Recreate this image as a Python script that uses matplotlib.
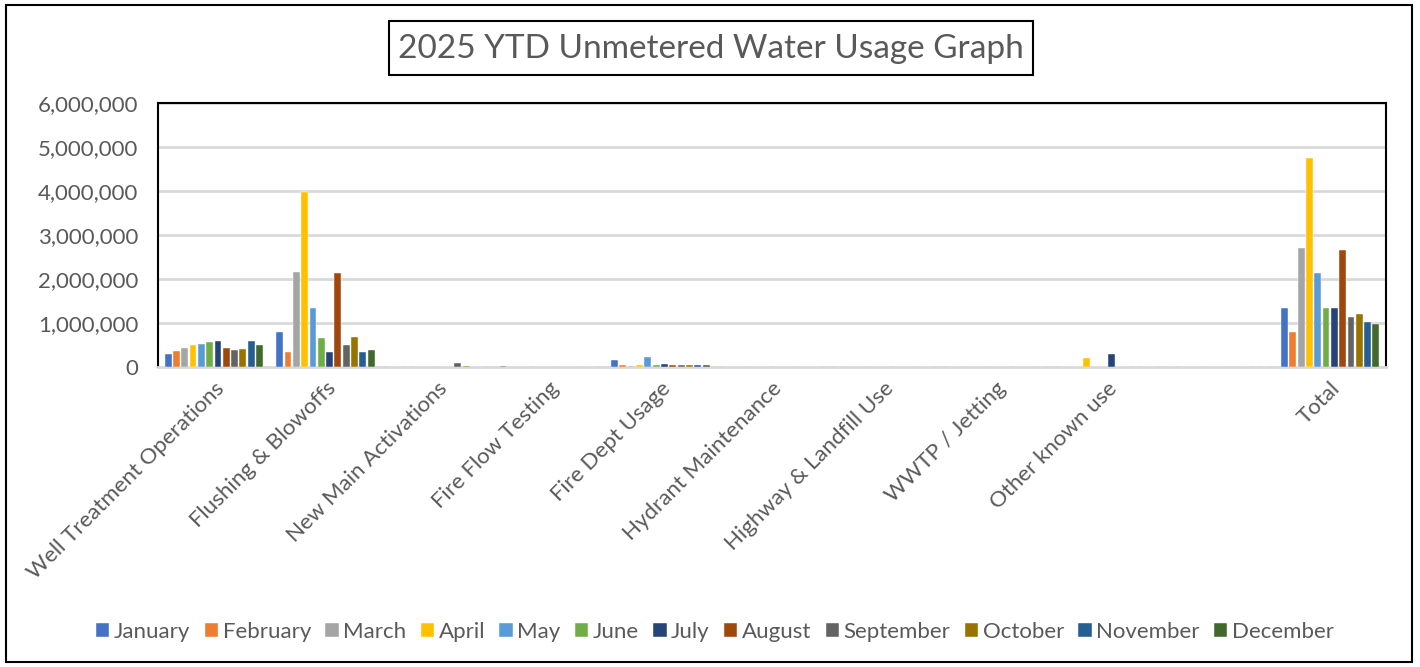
import numpy as np
import matplotlib
matplotlib.use("Agg")
import matplotlib.pyplot as plt
from matplotlib.patches import Rectangle
from matplotlib.ticker import FuncFormatter

# -------------------
# Data
# -------------------

categories = ["Well Treatment Operations", "Flushing & Blowoffs", "New Main Activations",
              "Fire Flow Testing", "Fire Dept Usage", "Hydrant Maintenance",
              "Highway & Landfill Use", "WWTP / Jetting", "Other known use", "", "Total"]
months = ["January", "February", "March", "April", "May", "June", "July",
          "August", "September", "October", "November", "December"]

well_treatment = [300000, 355000, 440000, 490000, 530000, 560000, 590000, 440000, 390000, 410000, 580000, 510000]
flushing = [790000, 350000, 2170000, 3970000, 1340000, 670000, 330000, 2140000, 510000, 680000, 350000, 380000]
new_main = [0, 0, 0, 0, 0, 0, 0, 0, 90000, 20000, 0, 0]
fire_flow = [20000, 0, 0, 0, 0, 0, 0, 0, 0, 0, 0, 0]
fire_dept = [170000, 55000, 30000, 50000, 220000, 55000, 60000, 55000, 55000, 55000, 55000, 55000]
hydrant = [0] * 12
highway = [0] * 12
wwtp = [0] * 12
other_use = [0, 0, 0, 200000, 0, 0, 290000, 0, 0, 0, 0, 0]
blank = [0] * 12
total = [1350000, 800000, 2700000, 4760000, 2140000, 1350000, 1330000, 2670000, 1130000, 1210000, 1030000, 980000]

colors = ["#4472C4", "#ED7D31", "#A5A5A5", "#FFC000", "#5B9BD5", "#70AD47",
          "#264478", "#9E480E", "#636363", "#997300", "#255E91", "#43682B"]

TEXT = "#595959"
plt.rcParams["font.family"] = ["Lato", "DejaVu Sans"]

values = np.array([well_treatment, flushing, new_main, fire_flow, fire_dept, hydrant,
                   highway, wwtp, other_use, blank, total])

fig = plt.figure(figsize=(14.2, 6.67), dpi=100)
W, H = 1420, 667
ax = fig.add_axes([158 / W, 1 - 367 / H, (1386 - 158) / W, (367 - 103) / H])

x = np.arange(len(categories))
pitch = 0.0745
bw = 0.062
for i, m in enumerate(months):
    ax.bar(x + (i - 5.5) * pitch, values[:, i], width=bw, color=colors[i],
           label=m, zorder=3, edgecolor="white", linewidth=0.3)

ax.set_xlim(-0.5, 10.5)
ax.set_ylim(0, 6000000)
ax.set_yticks(np.arange(0, 6000001, 1000000))
ax.yaxis.set_major_formatter(FuncFormatter(lambda v, p: f"{int(v):,}"))
ax.grid(axis="y", color="#D9D9D9", linewidth=2, zorder=0)
ax.set_xticks(x)
ax.set_xticklabels(categories, rotation=45, ha="right", va="top",
                   rotation_mode="anchor", color=TEXT, fontsize=16)
ax.tick_params(axis="both", length=0, labelsize=16, colors=TEXT)
ax.tick_params(axis="x", pad=8)
ax.tick_params(axis="y", pad=14)

for s in ["left", "top", "right"]:
    ax.spines[s].set_color("black")
    ax.spines[s].set_linewidth(1.5)
ax.spines["bottom"].set_color("#D9D9D9")
ax.spines["bottom"].set_linewidth(2)

# outer frame
fig.patches.append(Rectangle((6 / W, 1 - 662 / H), 1406 / W, 657 / H, transform=fig.transFigure,
                             fill=False, edgecolor="black", linewidth=1.5))

# boxed title
fig.patches.append(Rectangle((389 / W, 1 - 75 / H), 644 / W, 54 / H, transform=fig.transFigure,
                             fill=False, edgecolor="black", linewidth=1.5))
fig.text(711 / W, 1 - 49 / H, "2025 YTD Unmetered Water Usage Graph", ha="center", va="center",
         fontsize=24, color=TEXT)

fig.legend(loc="center", bbox_to_anchor=(715 / W, 1 - 632 / H), ncol=12, frameon=False,
           fontsize=16, handlelength=0.6, handleheight=0.6, handletextpad=0.2,
           columnspacing=0.65, labelcolor=TEXT)

fig.savefig("out.png", dpi=100)
